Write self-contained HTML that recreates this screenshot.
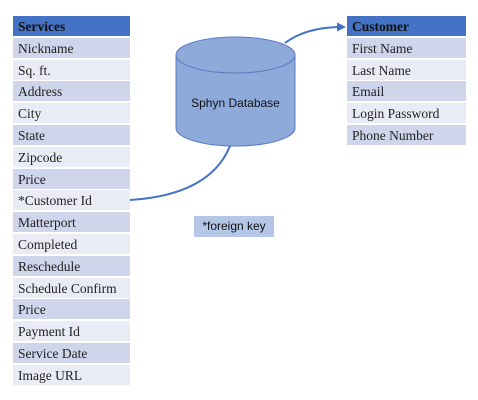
<!DOCTYPE html>
<html><head><style>
body{margin:0;width:478px;height:400px;background:#fff;position:relative;font-family:"Liberation Serif",serif;overflow:hidden}
.t{position:absolute;width:117px}
.r{height:20px;line-height:21px;margin-bottom:1.8px;padding-left:5px;font-size:13.5px;color:#222}
.h{background:#4472c4;font-weight:bold;color:#111}
.a{background:#cfd5ea}.b{background:#e9ebf5}
</style></head><body>
<div class="t" style="left:13px;top:16px">
<div class="r h">Services</div>
<div class="r a">Nickname</div><div class="r b">Sq. ft.</div><div class="r a">Address</div><div class="r b">City</div>
<div class="r a">State</div><div class="r b">Zipcode</div><div class="r a">Price</div><div class="r b">*Customer Id</div>
<div class="r a">Matterport</div><div class="r b">Completed</div><div class="r a">Reschedule</div><div class="r b">Schedule Confirm</div>
<div class="r a">Price</div><div class="r b">Payment Id</div><div class="r a">Service Date</div><div class="r b">Image URL</div>
</div>
<div class="t" style="left:347px;top:16px;width:119px">
<div class="r h">Customer</div>
<div class="r a">First Name</div><div class="r b">Last Name</div><div class="r a">Email</div><div class="r b">Login Password</div><div class="r a">Phone Number</div>
</div>
<svg width="478" height="400" style="position:absolute;left:0;top:0">
<path d="M176 55 L176 128 A59.5 18 0 0 0 295 128 L295 55" fill="#8eaadb" stroke="#5b7cbf" stroke-width="1"/>
<ellipse cx="235.5" cy="55" rx="59.5" ry="18" fill="#8eaadb" stroke="#5b7cbf" stroke-width="1"/>
<text x="235.5" y="107" font-family="Liberation Sans, sans-serif" font-size="12" text-anchor="middle" fill="#111">Sphyn Database</text>
<path d="M130 200 Q210 195 230 146" fill="none" stroke="#4472c4" stroke-width="2"/>
<path d="M285 43 Q305 28 338 27" fill="none" stroke="#4472c4" stroke-width="2"/>
<polygon points="346,27 337,22.5 337,31.5" fill="#4472c4"/>
</svg>
<div style="position:absolute;left:194px;top:216px;width:80px;height:21px;background:#b4c7e7;font-family:'Liberation Sans',sans-serif;font-size:12px;line-height:21px;text-align:center;color:#111">*foreign key</div>
</body></html>
